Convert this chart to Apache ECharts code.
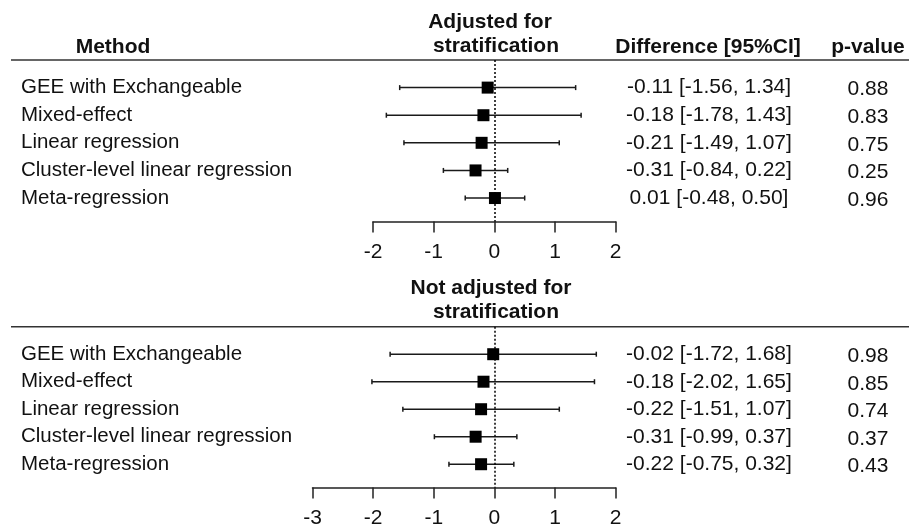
<!DOCTYPE html>
<html>
<head>
<meta charset="utf-8">
<script src="https://cdn.jsdelivr.net/npm/echarts@6/dist/echarts.min.js"></script>
<style>
  html, body { margin: 0; background: #fff; }
  #chart { width: 909px; height: 526px; }
</style>
</head>
<body>
<div id="chart"></div>
<script>
const methods = [
  'GEE with Exchangeable',
  'Mixed-effect',
  'Linear regression',
  'Cluster-level linear regression',
  'Meta-regression'
];

// adjusted for stratification
const adjEst = [-0.11, -0.18, -0.21, -0.31, 0.01];
const adjLo = [-1.56, -1.78, -1.49, -0.84, -0.48];
const adjHi = [1.34, 1.43, 1.07, 0.22, 0.50];
const adjP = ['0.88', '0.83', '0.75', '0.25', '0.96'];

// not adjusted for stratification
const unadjEst = [-0.02, -0.18, -0.22, -0.31, -0.22];
const unadjLo = [-1.72, -2.02, -1.51, -0.99, -0.75];
const unadjHi = [1.68, 1.65, 1.07, 0.37, 0.32];
const unadjP = ['0.98', '0.85', '0.74', '0.37', '0.43'];

const topTicks = [-2, 2];
const bottomTicks = [-3, 2];

const font = "'Liberation Sans', Arial, sans-serif";
const ink = '#111';

function ciText(est, lo, hi) {
  return est.map((v, i) => v.toFixed(2) + ' [' + lo[i].toFixed(2) + ', ' + hi[i].toFixed(2) + ']');
}

function barSeries(idx, lo, hi) {
  return {
    type: 'custom',
    xAxisIndex: idx,
    yAxisIndex: idx,
    z: 2,
    data: lo.map((v, i) => [v, hi[i], i]),
    renderItem: function (params, api) {
      const a = api.coord([api.value(0), api.value(2)]);
      const b = api.coord([api.value(1), api.value(2)]);
      const style = { stroke: '#1a1a1a', lineWidth: 1.5 };
      return {
        type: 'group',
        children: [
          { type: 'line', shape: { x1: a[0], y1: a[1], x2: b[0], y2: b[1] }, style: style },
          { type: 'line', shape: { x1: a[0], y1: a[1] - 2.5, x2: a[0], y2: a[1] + 2.5 }, style: style },
          { type: 'line', shape: { x1: b[0], y1: b[1] - 2.5, x2: b[0], y2: b[1] + 2.5 }, style: style }
        ]
      };
    }
  };
}

function pointSeries(idx, est) {
  return {
    type: 'scatter',
    xAxisIndex: idx,
    yAxisIndex: idx,
    z: 3,
    symbol: 'rect',
    symbolSize: 12,
    itemStyle: { color: '#000', opacity: 1 },
    data: est.map((v, i) => [v, i]),
    markLine: {
      silent: true,
      symbol: 'none',
      label: { show: false },
      lineStyle: { color: '#000', width: 1.5, type: [2, 2], opacity: 1 },
      data: [{ xAxis: 0 }]
    }
  };
}

function xAxisFor(idx, ticks, margin) {
  return {
    type: 'value',
    gridIndex: idx,
    min: ticks[0],
    max: ticks[1],
    interval: 1,
    splitLine: { show: false },
    axisLine: { show: true, onZero: false, lineStyle: { color: '#222', width: 1.5 } },
    axisTick: { show: true, length: 11, lineStyle: { color: '#222', width: 1.5 } },
    axisLabel: { margin: margin, color: ink, fontSize: 21, fontFamily: font }
  };
}

function yAxisFor(idx) {
  return { type: 'value', gridIndex: idx, min: -1, max: 4.85, inverse: true, show: false };
}

const chart = echarts.init(document.getElementById('chart'));
chart.setOption({
  animation: false,
  backgroundColor: '#fff',
  grid: [
    { left: 373, right: 293.3, top: 60, height: 161.5, outerBoundsMode: 'none', containLabel: false },
    { left: 312.5, right: 293.3, top: 326.7, height: 160.9, outerBoundsMode: 'none', containLabel: false }
  ],
  xAxis: [xAxisFor(0, topTicks, 20), xAxisFor(1, bottomTicks, 20)],
  yAxis: [yAxisFor(0), yAxisFor(1)],
  series: [
    barSeries(0, adjLo, adjHi),
    pointSeries(0, adjEst),
    barSeries(1, unadjLo, unadjHi),
    pointSeries(1, unadjEst)
  ]
});

// text columns placed on the rows of each panel
const graphic = [];
function txt(x, y, text, opts) {
  graphic.push({
    type: 'text', x: x, y: y, silent: true,
    style: Object.assign({
      text: text, fill: ink, font: '20.5px ' + font,
      align: 'left', verticalAlign: 'middle'
    }, opts || {})
  });
}
function hline(y) {
  graphic.push({
    type: 'line', silent: true,
    shape: { x1: 11, y1: y, x2: 909, y2: y },
    style: { stroke: '#333', lineWidth: 1.5 }
  });
}

const bold = 'bold 21px ' + font;
txt(113, 47.5, 'Method', { font: bold, align: 'center' });
txt(490, 22.5, 'Adjusted for', { font: bold, align: 'center' });
txt(496, 46.5, 'stratification', { font: bold, align: 'center' });
txt(708, 47.5, 'Difference [95%CI]', { font: bold, align: 'center' });
txt(868, 47.5, 'p-value', { font: bold, align: 'center' });
txt(491, 288.5, 'Not adjusted for', { font: bold, align: 'center' });
txt(496, 312.5, 'stratification', { font: bold, align: 'center' });
hline(60);
hline(326.7);

function panelText(idx, est, lo, hi, p) {
  const ci = ciText(est, lo, hi);
  methods.forEach((m, i) => {
    const y = chart.convertToPixel({ gridIndex: idx }, [0, i])[1];
    txt(21, y, m);
    txt(709, y, ci[i], { align: 'center', font: '21px ' + font });
    txt(868, y + 2, p[i], { align: 'center', font: '21px ' + font });
  });
}
panelText(0, adjEst, adjLo, adjHi, adjP);
panelText(1, unadjEst, unadjLo, unadjHi, unadjP);

chart.setOption({ graphic: graphic });
</script>
</body>
</html>
